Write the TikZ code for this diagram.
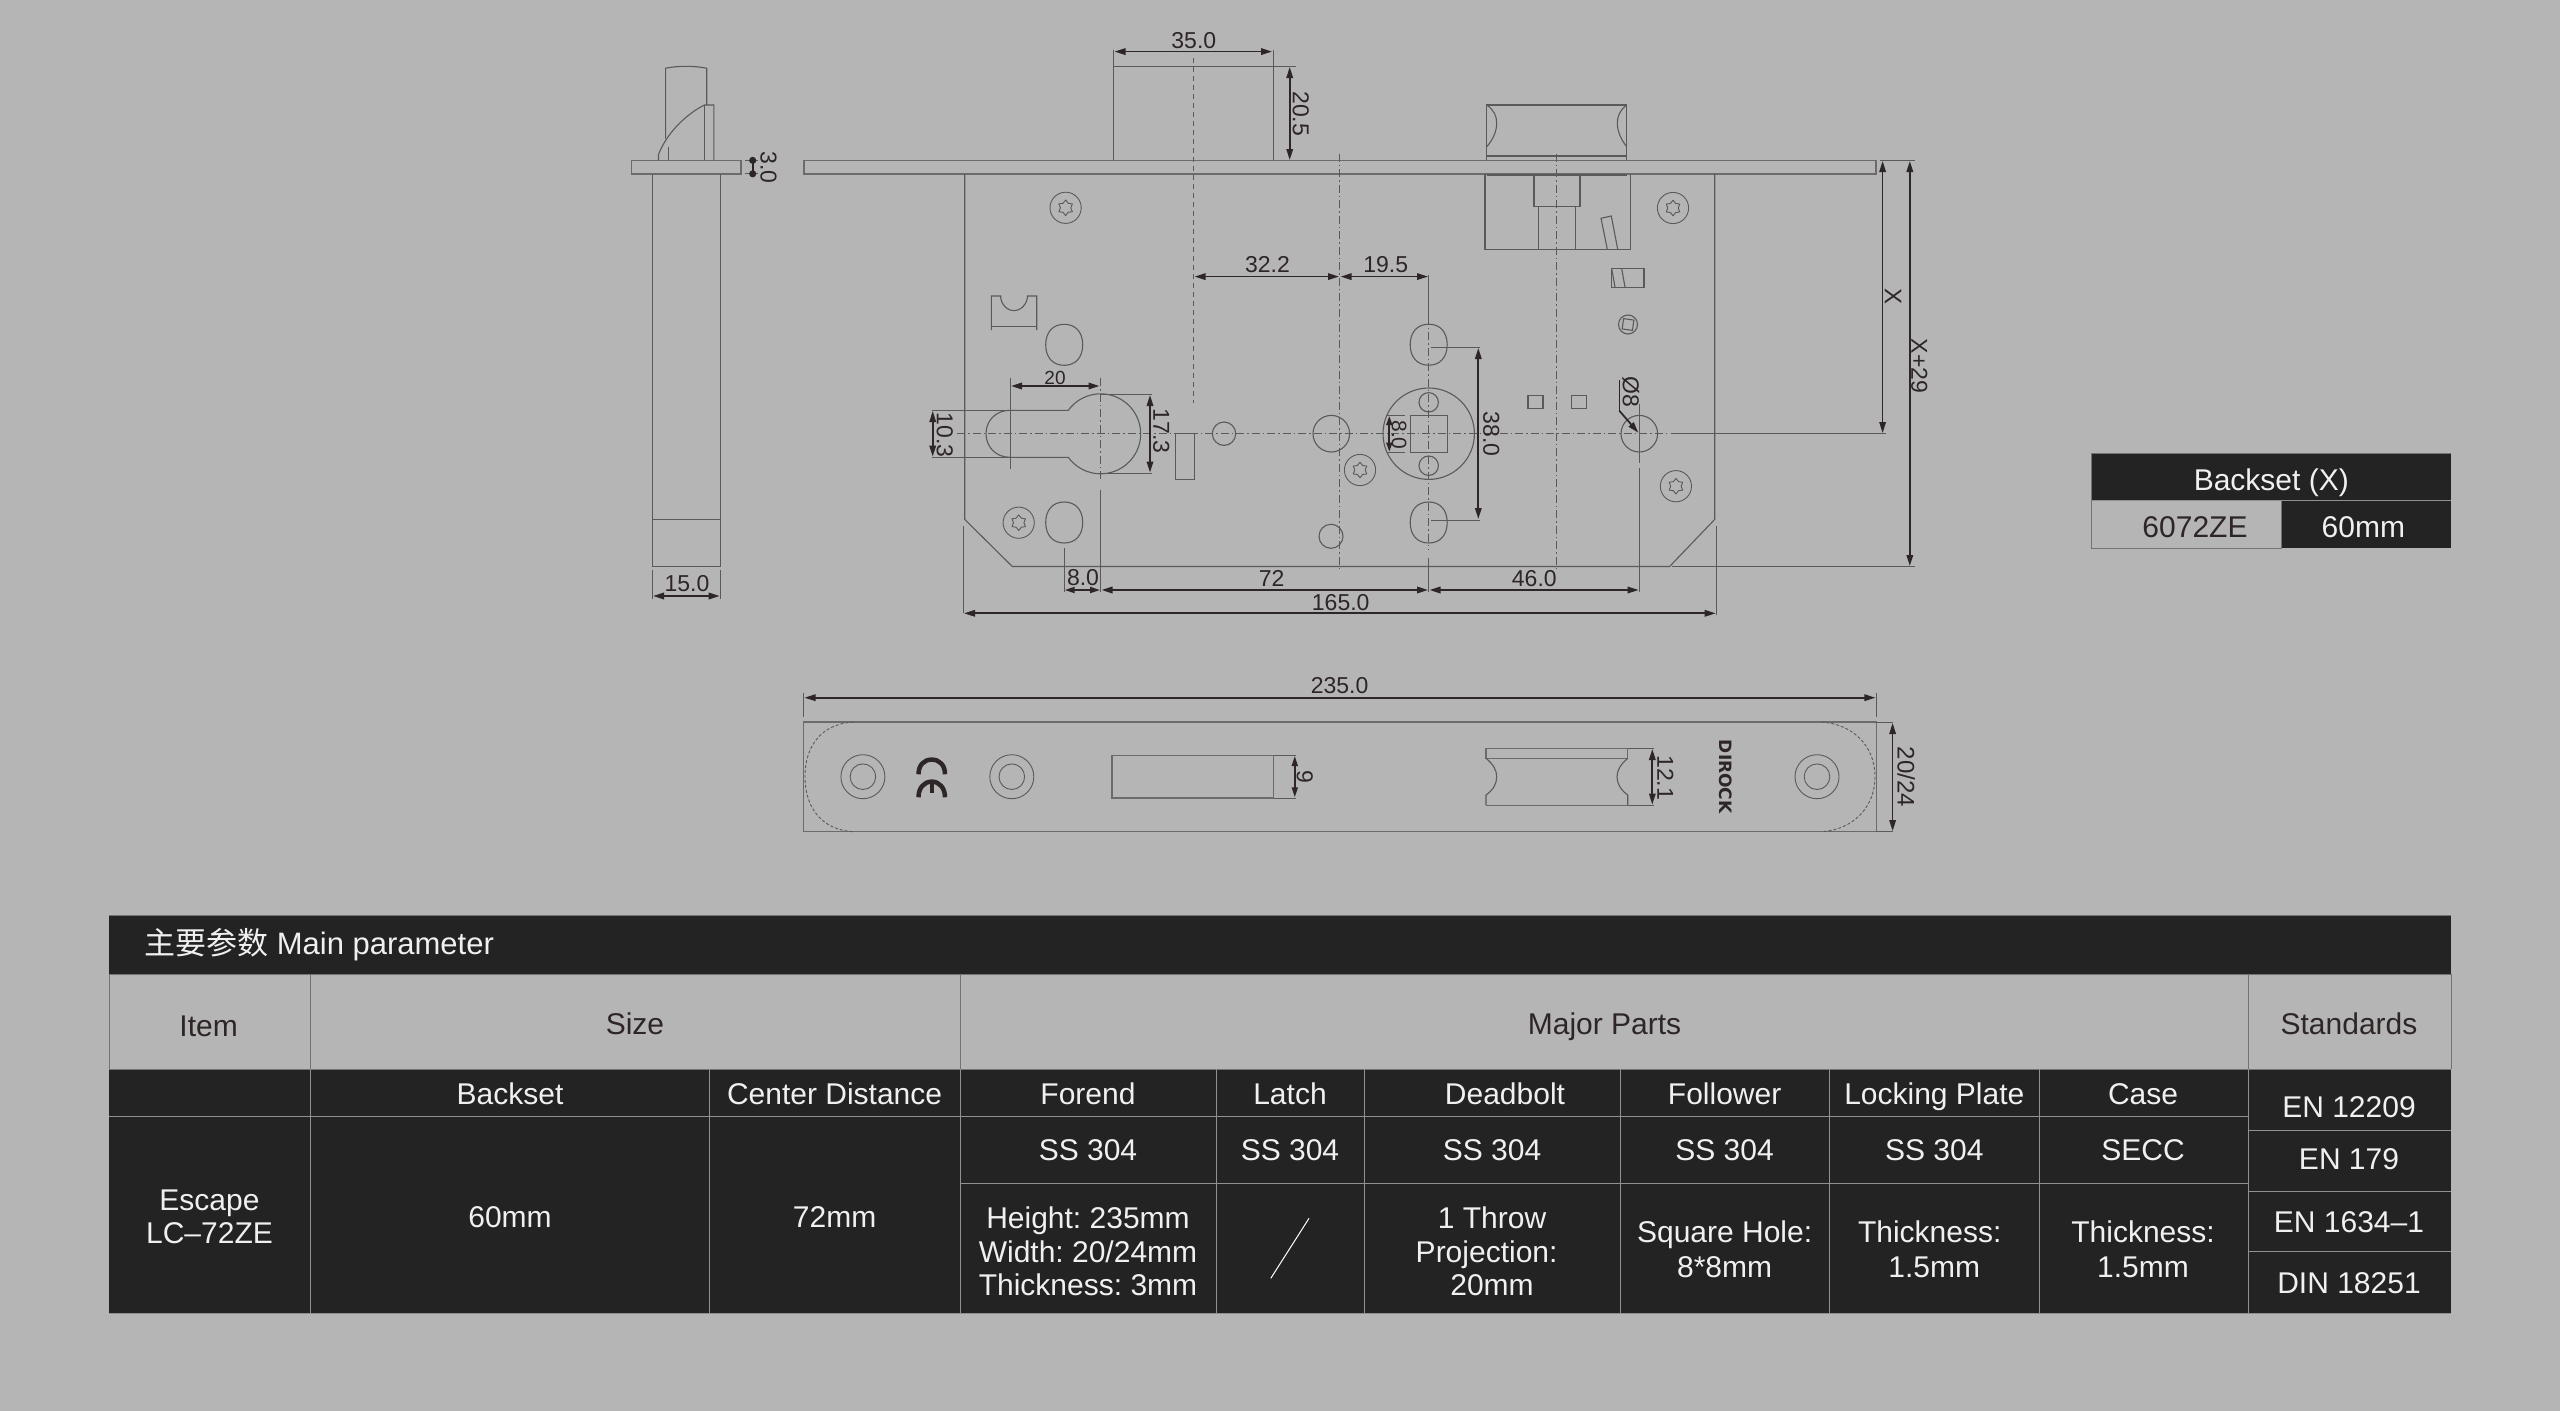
\documentclass[tikz,border=0pt]{standalone}
\usepackage{fontspec}
\setmainfont{Liberation Sans}
\newfontfamily\cjkf{Noto Sans CJK SC}
\newfontfamily\logof{DejaVu Sans}
\frenchspacing
\usetikzlibrary{arrows.meta}
\definecolor{bgc}{HTML}{B5B5B5}
\definecolor{darkc}{HTML}{232323}
\definecolor{inkc}{HTML}{2E2626}
\definecolor{linec}{HTML}{5A5A5A}
\definecolor{tabc}{HTML}{909090}
\tikzset{
  x=1pt,y=-1pt,
  part/.style={draw=linec,line width=1.1pt},
  plate/.style={draw=linec!90!white,line width=1.5pt},
  extl/.style={draw=linec,line width=0.9pt},
  center line/.style={draw=linec,line width=1pt,dash pattern=on 8pt off 3pt on 1.5pt off 3pt},
  dashl/.style={draw=linec,line width=1pt,dash pattern=on 5pt off 4pt},
  fined/.style={draw=linec,line width=.9pt,dash pattern=on 3pt off 2pt},
  dimline/.style={draw=inkc,line width=1.7pt,<->,>={Stealth[length=11pt,width=6.5pt,inset=0pt]}},
  oneway/.style={draw=inkc,line width=1.7pt,->,>={Stealth[length=11pt,width=6.5pt,inset=0pt]}},
  dimt/.style={text=inkc,font=\fontsize{23}{23}\selectfont,inner sep=0pt,text height=16.5pt,text depth=0pt,anchor=center},
  dims/.style={text=inkc,font=\fontsize{21}{21}\selectfont,inner sep=0pt,text height=15pt,text depth=0pt,anchor=center},
  tw/.style={text=white!94!black,font=\fontsize{30}{30}\selectfont,inner sep=0pt,text height=21pt,text depth=0pt,anchor=center},
  tk/.style={text=inkc,font=\fontsize{30}{30}\selectfont,inner sep=0pt,text height=21pt,text depth=0pt,anchor=center},
  tabl/.style={draw=tabc,line width=1pt},
  tabk/.style={draw=gray!90!black,line width=1pt},
  screw/.pic={
    \draw[part,line width=.9pt] (0,0) circle[radius=15.6pt];
    \draw[part,line width=.9pt,line join=round] (90:7.8pt) -- (60:5.2pt) -- (30:7.8pt) -- (0:5.2pt) -- (-30:7.8pt) -- (-60:5.2pt) -- (-90:7.8pt) -- (-120:5.2pt) -- (-150:7.8pt) -- (180:5.2pt) -- (150:7.8pt) -- (120:5.2pt) -- cycle;
  },
  washer/.pic={
    \draw[part,line width=.9pt] (0,0) circle[radius=22pt];
    \draw[part,line width=.9pt] (0,0) circle[radius=12.8pt];
  },
  oblong/.pic={
    \draw[part] (0,-20.5) .. controls (11.5,-20.5) and (18.5,-12.5) .. (18.5,0) .. controls (18.5,12.5) and (11.5,20.5) .. (0,20.5) .. controls (-11.5,20.5) and (-18.5,12.5) .. (-18.5,0) .. controls (-18.5,-12.5) and (-11.5,-20.5) .. (0,-20.5) -- cycle;
  },
}
\begin{document}
\begin{tikzpicture}
\useasboundingbox (0,0) rectangle (2560,1411);
\fill[bgc] (0,0) rectangle (2560,1411);

% ---------- side view ----------
\draw[plate] (631.3,160.4) rectangle (741,173.8);
\draw[part] (652.2,173.8) -- (652.2,566.5) -- (720.5,566.5) -- (720.5,173.8);
\draw[part] (652.2,519.4) -- (720.5,519.4);
\draw[part] (665.6,138.6) -- (665.6,68.2) .. controls (678,65.7) and (694,65.7) .. (706.7,68.2) -- (706.7,105);
\draw[part] (668.3,146.5) -- (668.3,160.4);
\draw[part] (658.5,160.4) -- (658.5,154.4) .. controls (668,130) and (690,112) .. (704.5,105) -- (713.8,105) -- (713.8,160.4);
\draw[part] (704.5,105) -- (704.5,160.4);
\draw[extl] (652.2,570) -- (652.2,599);
\draw[extl] (720.5,570) -- (720.5,599);
\draw[dimline] (653,596) -- (719.7,596);
\node[dimt] (tside) at (687,583.5) {15.0};
\draw[extl] (745,160.4) -- (758,160.4);
\draw[extl] (745,173.8) -- (758,173.8);
\draw[draw=inkc,line width=1.7pt,{Circle[length=7pt]}-{Circle[length=7pt]}] (752.7,156.9) -- (752.7,177.3);
\node[dimt,rotate=-90] (tthree) at (768.9,167.5) {3.0};

% ---------- front view: forend and latch ----------
\draw[plate] (804,160.4) rectangle (1876,173.8);
\draw[part] (1113.4,160.4) -- (1113.4,66.3) -- (1273.2,66.3) -- (1273.2,160.4);
\draw[extl] (1113.4,49.7) -- (1113.4,66.3);
\draw[extl] (1273.2,49.7) -- (1273.2,66.3);
\draw[extl] (1273.2,66.3) -- (1296,66.3);
\draw[dimline] (1114.5,51.6) -- (1272,51.6);
\node[dimt] (t35) at (1193.8,40.6) {35.0};
\draw[dimline] (1289.7,67) -- (1289.7,160);
\node[dimt,rotate=-90] (t205) at (1301,113.7) {20.5};

% case outline
\draw[part] (964.7,173.8) -- (964.7,519.4) -- (1012.3,566.5) -- (1669.6,566.5) -- (1714.7,519.4) -- (1714.7,173.8);
\draw[extl] (1672,566.5) -- (1915,566.5);
\draw[extl] (1879.5,160.4) -- (1915,160.4);

% centre lines
\draw[center line] (957,433.7) -- (1669.6,433.7);
\draw[extl] (1670.5,433.7) -- (1886,433.7);
\draw[dashl] (1193.8,57.6) -- (1193.8,402.8);
\draw[center line] (1339.8,153.6) -- (1339.8,568.3);
\draw[center line] (1556.8,153.6) -- (1556.8,568.3);
\draw[center line] (1428.7,316.6) -- (1428.7,550);
\draw[center line] (1100.7,378.3) -- (1100.7,482);
\draw[extl] (1100.7,490) -- (1100.7,591.7);
\draw[extl] (1428.7,275) -- (1428.7,316.6);
\draw[extl] (1428.7,558.3) -- (1428.7,591.7);
\draw[extl] (1639.3,404) -- (1639.3,463.3);
\draw[extl] (1639.3,468.3) -- (1639.3,591.7);

% screws
\pic at (1065.6,207.8) {screw};
\pic at (1018.7,522.7) {screw};
\pic at (1673,208) {screw};
\pic at (1675.9,486.2) {screw};
\pic at (1360,470) {screw};

% hook
\draw[part] (991.3,330) -- (991.3,296) -- (1000.7,296) -- (1000.7,298) .. controls (1002,306) and (1008,310.7) .. (1014,310.7) .. controls (1020,310.7) and (1026,306) .. (1027.3,298) -- (1027.3,296) -- (1036.7,296) -- (1036.7,330);
\draw[part] (991.3,326.7) -- (1036.7,326.7);

% oblong holes
\pic at (1064.2,344.8) {oblong};
\pic at (1064.2,522.5) {oblong};
\pic at (1428.7,344.7) {oblong};
\pic at (1428.7,522.5) {oblong};

% keyhole
\draw[part] (1010,410.3) -- (1068.3,410.3) arc[start angle=144,end angle=-144,radius=40pt] -- (1010,457.3) .. controls (996,457.3) and (986,447) .. (986,433.7) .. controls (986,420.5) and (996,410.3) .. (1010,410.3);
\draw[extl] (1010,377.7) -- (1010,468.7);
\draw[dimline] (1011,386) -- (1099.5,386);
\node[dimt,font=\fontsize{19}{19}\selectfont] (t20) at (1055,376) {20};
\draw[extl] (931.7,410.3) -- (1010,410.3);
\draw[extl] (931.7,457.3) -- (1010,457.3);
\draw[dimline] (932.7,411) -- (932.7,456.6);
\node[dimt,rotate=-90] (t103) at (945,435) {10.3};
\draw[extl] (1100.7,394) -- (1151.7,394);
\draw[extl] (1100.7,473.3) -- (1151.7,473.3);
\draw[dimline] (1150,395) -- (1150,472.5);
\node[dimt,rotate=-90] (t173) at (1161.7,431) {17.3};
\draw[part] (1175.7,433.7) rectangle (1194.7,479.3);
\draw[part] (1224,433.7) circle[radius=11.7pt];
\draw[part] (1331.3,433.7) circle[radius=18.3pt];
\draw[part] (1331,536.3) circle[radius=12pt];

% follower
\draw[part] (1428.7,433.7) circle[radius=45.7pt];
\draw[part] (1428.7,402.3) circle[radius=9.7pt];
\draw[part] (1428.7,465.7) circle[radius=9.7pt];
\draw[part] (1410.3,415.3) rectangle (1447.7,452.3);
\draw[extl] (1387.3,415.3) -- (1405,415.3);
\draw[extl] (1387.3,452.3) -- (1405,452.3);
\draw[dimline,>={Stealth[length=9pt,width=6pt,inset=0pt]}] (1389.3,416) -- (1389.3,451.6);
\node[dims,rotate=-90] (t80s) at (1399.3,435) {8.0};
\draw[extl] (1430.7,347) -- (1480,347);
\draw[extl] (1430.7,520) -- (1480,520);
\draw[dimline] (1478.3,348) -- (1478.3,519);
\node[dimt,rotate=-90] (t38) at (1491.7,434.3) {38.0};

% squares and right hole
\draw[part] (1528,395.7) rectangle (1543,408.3);
\draw[part] (1571.3,395.7) rectangle (1586.3,408.3);
\draw[part] (1639.3,433.7) circle[radius=18.3pt];
\draw[draw=inkc,line width=1.4pt] (1619.3,380) -- (1619.3,410.7);
\draw[oneway] (1619.3,410.7) -- (1638.3,432.7);
\node[dimt,rotate=-90] (tphi) at (1631,392) {Ø8};

% deadbolt above the forend
\draw[part] (1486.7,160.4) -- (1486.7,105) -- (1626.7,105) -- (1626.7,160.4);
\draw[part] (1486.7,156) -- (1626.7,156);
\draw[part] (1486.7,105) .. controls (1494,110) and (1496.7,116) .. (1496.7,123.3) .. controls (1496.7,132) and (1492,141) .. (1486.7,146.7);
\draw[part] (1626.7,105) .. controls (1620,110) and (1617.3,116) .. (1617.3,123.3) .. controls (1617.3,132) and (1622,141) .. (1626.7,146.7);
% lock case parts below the forend
\draw[part,line width=1.3pt] (1485,174.3) -- (1485,249.3) -- (1630.3,249.3) -- (1630.3,174.3);
\draw[draw=linec,line width=1.8pt] (1486.7,175) -- (1626.7,175);
\draw[part] (1534,175) -- (1534,206.3) -- (1580,206.3) -- (1580,175);
\draw[part] (1538.3,206.3) -- (1538.3,249.3);
\draw[part] (1575.3,206.3) -- (1575.3,249.3);
\draw[part] (1607.3,249.3) -- (1601,218.3) -- (1611.3,216) -- (1617.7,249.3);
\draw[part] (1611.7,268.7) rectangle (1644,287.3);
\draw[part] (1621.7,268.7) -- (1625,287.3);
\draw[part] (1611.7,268.7) -- (1615,287.3);
\draw[part] (1628,324.5) circle[radius=9.5pt];
\draw[part,rotate around={-8:(1628,324.5)}] (1622.8,319.3) rectangle (1633.2,329.7);

% upper dimensions
\draw[dimline] (1194.6,276.6) -- (1339,276.6);
\draw[dimline] (1340.6,276.6) -- (1428,276.6);
\node[dimt] (t322) at (1267.4,264.4) {32.2};
\node[dimt] (t195) at (1385.7,264.4) {19.5};
% right dimensions
\draw[dimline] (1882.6,161) -- (1882.6,433);
\node[dimt,rotate=-90,font=\fontsize{24}{24}\selectfont] (tx) at (1893,296) {X};
\draw[dimline] (1909.8,161) -- (1909.8,566);
\node[dimt,rotate=-90] (tx29) at (1919.6,366) {X+29};
% lower dimensions
\draw[extl] (1064,548.3) -- (1064,591.7);
\draw[dimline,>={Stealth[length=10pt,width=6pt,inset=0pt]}] (1064.7,590) -- (1100,590);
\node[dimt] (t80) at (1083,577.5) {8.0};
\draw[dimline] (1101.5,590) -- (1428,590);
\node[dimt] (t72) at (1271.7,578) {72};
\draw[dimline] (1429.5,590) -- (1638.6,590);
\node[dimt] (t46) at (1534.3,578) {46.0};
\draw[extl] (963.3,526) -- (963.3,613.3);
\draw[extl] (1716.5,526) -- (1716.5,615);
\draw[dimline] (964,613.3) -- (1715.7,613.3);
\node[dimt] (t165) at (1340.7,602.7) {165.0};

% ---------- forend face view ----------
\draw[extl] (803.5,693.3) -- (803.5,716.7);
\draw[extl] (1876.4,693.3) -- (1876.4,716.7);
\draw[dimline] (804.5,697.7) -- (1875.4,697.7);
\node[dimt] (t235) at (1339.6,685.7) {235.0};
\draw[plate] (803.5,722) rectangle (1876.4,831.7);
\draw[extl] (1876.4,722) -- (1893.3,722);
\draw[extl] (1876.4,831.7) -- (1893.3,831.7);
\draw[fined] (853.3,722) .. controls (822,724) and (805,745) .. (805,776.8) .. controls (805,808) and (822,830) .. (853.3,831.7);
\draw[fined] (1821.4,722) .. controls (1852,724) and (1875,745) .. (1875,776.8) .. controls (1875,808) and (1852,830) .. (1821.4,831.7);
\pic at (862.9,776.7) {washer};
\pic at (1011.8,776.7) {washer};
\pic at (1817,776.7) {washer};
% CE mark
\draw[draw=inkc,line width=4.5pt] (918.5,774.3) .. controls (918.5,765) and (924,759.6) .. (931.7,759.6) .. controls (939.4,759.6) and (945,765) .. (945,774.3);
\draw[draw=inkc,line width=4.5pt] (918.5,797.3) .. controls (918.5,788) and (924,781.6) .. (931.7,781.6) .. controls (939.4,781.6) and (945,788) .. (945,797.3);
\draw[draw=inkc,line width=4pt] (931.7,783) -- (931.7,793.3);
% slot
\draw[plate] (1112.2,755.3) rectangle (1273.6,798);
\draw[extl] (1273.6,755.3) -- (1295.6,755.3);
\draw[extl] (1273.6,798) -- (1295.6,798);
\draw[dimline,>={Stealth[length=10pt,width=6pt,inset=0pt]}] (1294.8,756) -- (1294.8,797.3);
\node[dimt,rotate=-90] (t9) at (1305,776.7) {9};
% bolt
\draw[plate] (1486,758.3) -- (1486,748.3) -- (1627.7,748.3) -- (1627.7,758.3) -- cycle;
\draw[part] (1486,758.3) .. controls (1493,764) and (1496.7,770) .. (1496.7,776.7) .. controls (1496.7,784) and (1493,790) .. (1486,795) -- (1486,805.3);
\draw[part] (1627.7,758.3) .. controls (1621,764) and (1617,770) .. (1617,776.7) .. controls (1617,784) and (1621,790) .. (1627.7,795) -- (1627.7,805.3);
\draw[plate] (1486,805.3) -- (1627.7,805.3);
\draw[extl] (1627.7,748.3) -- (1654,748.3);
\draw[extl] (1627.7,805.3) -- (1654,805.3);
\draw[dimline] (1652.3,749) -- (1652.3,804.6);
\node[dimt,rotate=-90] (t121) at (1665.7,777.7) {12.1};
\node[rotate=-90,inner sep=0pt,text=inkc,font=\logof\bfseries\fontsize{17}{17}\selectfont,text height=12.4pt,text depth=0pt] (tlogo) at (1726,776.7) {DIROCK};
\draw[dimline] (1892.6,723) -- (1892.6,831);
\node[dimt,rotate=-90,font=\fontsize{24}{24}\selectfont] (t2024) at (1905.8,776.7) {20/24};

% ---------- backset table ----------
\fill[darkc] (2091.7,453.3) rectangle (2451,500.7);
\fill[darkc] (2281.7,500.7) rectangle (2451,548.3);
\draw[tabk] (2091.7,453.3) -- (2451,453.3);
\draw[tabk] (2091.7,453.3) -- (2091.7,548.3) -- (2281.7,548.3) -- (2281.7,500.7);
\draw[tabl] (2091.7,500.7) -- (2451,500.7);
\node[tw] (tb1) at (2271.3,480) {Backset (X)};
\node[tk] (tb2) at (2195,526.7) {6072ZE};
\node[tw] (tb3) at (2363.3,526.7) {60mm};

% ---------- main table ----------
\fill[darkc] (109,915) rectangle (2451,974);
\fill[darkc] (109,1069) rectangle (2451,1313.3);
\draw[tabk] (109,915) -- (2451,915);
\draw[tabk] (109,974) -- (109,1069);
\draw[tabk] (2451,974) -- (2451,1069);
\draw[tabk] (310.4,974) -- (310.4,1069);
\draw[tabk] (960,974) -- (960,1069);
\draw[tabk] (2248,974) -- (2248,1069);
\draw[tabk] (109,974) -- (2451,974);
\draw[tabk] (109,1069) -- (2451,1069);
\foreach \cx in {310.4,709,960,1216.5,1364.2,1620.5,1829.5,2039.2,2248} \draw[tabl] (\cx,1069) -- (\cx,1313.3);
\draw[tabl] (109,1116.3) -- (2248,1116.3);
\draw[tabl] (960,1183.3) -- (2248,1183.3);
\draw[tabl] (2248,1130) -- (2451,1130);
\draw[tabl] (2248,1191) -- (2451,1191);
\draw[tabl] (2248,1251.7) -- (2451,1251.7);
\draw[tabl] (109,1313.3) -- (2451,1313.3);
\draw[white,line width=1pt] (1270.8,1278.3) -- (1309,1218.3);

\node[tw,anchor=west,font=\fontsize{31}{31}\selectfont] (mtitle) at (144,944) {{\cjkf 主要参数} Main parameter};
\node[tk] (hitem) at (208.6,1026) {Item};
\node[tk] (hsize) at (635,1024) {Size};
\node[tk] (hmajor) at (1604.5,1024) {Major Parts};
\node[tk] (hstd) at (2349,1024) {Standards};
\node[tw] (r1) at (510,1094) {Backset};
\node[tw] (r2) at (834.6,1094) {Center Distance};
\node[tw] (r3) at (1088,1094) {Forend};
\node[tw] (r4) at (1290,1094) {Latch};
\node[tw] (r5) at (1505,1094) {Deadbolt};
\node[tw] (r6) at (1724.6,1094) {Follower};
\node[tw] (r7) at (1934.3,1094) {Locking Plate};
\node[tw] (r8) at (2143,1094) {Case};
\node[tw] (s1) at (1088,1150) {SS 304};
\node[tw] (s2) at (1290,1150) {SS 304};
\node[tw] (s3) at (1492,1150) {SS 304};
\node[tw] (s4) at (1724.6,1150) {SS 304};
\node[tw] (s5) at (1934.3,1150) {SS 304};
\node[tw] (s6) at (2143,1150) {SECC};
\node[tw] (e1) at (209.5,1200) {Escape};
\node[tw] (e2) at (209.5,1233.3) {LC–72ZE};
\node[tw] (e3) at (510,1216.7) {60mm};
\node[tw] (e4) at (834.6,1216.7) {72mm};
\node[tw] (f1) at (1088,1218.3) {Height: 235mm};
\node[tw] (f2) at (1088,1251.7) {Width: 20/24mm};
\node[tw] (f3) at (1088,1285) {Thickness: 3mm};
\node[tw] (d1) at (1492,1218.3) {1 Throw};
\node[tw] (d2) at (1486.6,1251.7) {Projection:};
\node[tw] (d3) at (1492,1285) {20mm};
\node[tw] (g1) at (1724.6,1232) {Square Hole:};
\node[tw] (g2) at (1724.6,1266.7) {8*8mm};
\node[tw] (l1) at (1929.7,1232) {Thickness:};
\node[tw] (l2) at (1934.3,1266.7) {1.5mm};
\node[tw] (c1) at (2143,1232) {Thickness:};
\node[tw] (c2) at (2143,1266.7) {1.5mm};
\node[tw] (n1) at (2349,1106.7) {EN 12209};
\node[tw] (n2) at (2349,1159.3) {EN 179};
\node[tw] (n3) at (2349,1221.7) {EN 1634–1};
\node[tw] (n4) at (2349,1282.7) {DIN 18251};
\end{tikzpicture}
\end{document}
